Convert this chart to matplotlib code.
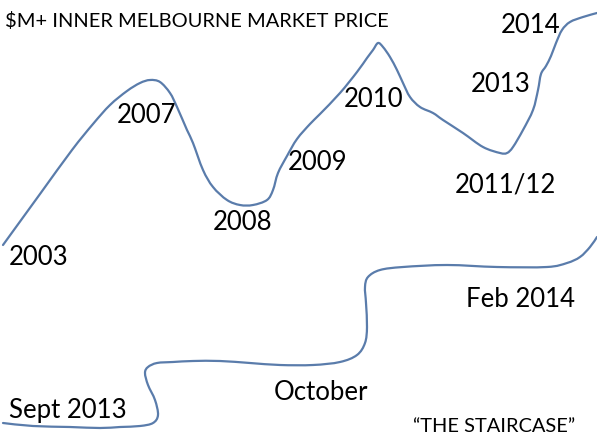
import matplotlib
matplotlib.use("Agg")
import matplotlib.pyplot as plt
from matplotlib.path import Path
from matplotlib.patches import PathPatch

# ---- data (pixel space, y downwards) ----
upper_x = [3, 40, 72, 93, 110, 127, 140, 150, 160, 170, 177, 187, 193, 203, 213,
           227, 240, 253, 267, 273, 278, 287, 297, 310, 320, 340, 357, 367, 373, 378,
           383, 390, 397, 403, 410, 420, 433, 443, 463, 483, 500, 507, 513, 523, 533,
           538, 541, 546, 551, 556, 562, 570, 583, 597]
upper_y = [245, 194, 150, 124, 105, 91, 83, 80, 82, 93, 107, 130, 143, 170, 187,
           200, 205, 205, 200, 190, 173, 156, 139, 124, 114, 93, 72, 58, 50, 43,
           47, 57, 70, 83, 97, 107, 113, 120, 133, 147, 153, 153, 147, 130, 110,
           90, 74, 66, 56, 43, 30, 22, 17, 13]

lower_x = [3, 33, 70, 100, 120, 140, 153, 158, 155, 148, 145, 148, 157, 173, 193, 220,
           250, 280, 313, 340, 357, 365, 367, 366, 365, 368, 380, 403, 447, 497, 547,
           567, 580, 590, 597]
lower_y = [423, 426, 427, 428, 427, 426, 423, 415, 400, 385, 373, 367, 363, 362, 361, 361,
           363, 365, 365, 362, 355, 343, 327, 303, 287, 277, 270, 267, 265, 267, 267,
           263, 257, 247, 237]

title = "$M+ INNER MELBOURNE MARKET PRICE"
subtitle = "\u201cTHE STAIRCASE\u201d"
upper_labels = ["2003", "2007", "2008", "2009", "2010", "2011/12", "2013", "2014"]
upper_label_x = [39, 146, 243, 318, 374, 505, 501, 531]
upper_label_y = [265, 123, 230, 170, 107, 192, 92, 33]
lower_labels = ["Sept 2013", "October", "Feb 2014"]
lower_label_x = [68, 321, 520]
lower_label_y = [418, 400, 307]

LINE = "#5a7cab"
FONT = ["Lato", "DejaVu Sans"]


def smooth_path(xs, ys):
    """Catmull-Rom through the read points, rendered as cubic Bezier segments."""
    pts = list(zip(xs, ys))
    verts = [pts[0]]
    codes = [Path.MOVETO]
    n = len(pts)
    for i in range(n - 1):
        p0 = pts[i - 1] if i > 0 else pts[i]
        p1 = pts[i]
        p2 = pts[i + 1]
        p3 = pts[i + 2] if i + 2 < n else pts[i + 1]
        c1 = (p1[0] + (p2[0] - p0[0]) / 6.0, p1[1] + (p2[1] - p0[1]) / 6.0)
        c2 = (p2[0] - (p3[0] - p1[0]) / 6.0, p2[1] - (p3[1] - p1[1]) / 6.0)
        verts += [c1, c2, p2]
        codes += [Path.CURVE4] * 3
    return Path(verts, codes)


fig = plt.figure(figsize=(5.97, 4.48), dpi=100)
ax = fig.add_axes([0, 0, 1, 1])
ax.set_xlim(0, 597)
ax.set_ylim(448, 0)
ax.axis("off")

for xs, ys in [(upper_x, upper_y), (lower_x, lower_y)]:
    ax.add_patch(PathPatch(smooth_path(xs, ys), facecolor="none", edgecolor=LINE,
                           lw=1.6, capstyle="round", joinstyle="round"))

ax.text(5, 27, title, family=FONT, fontsize=14.4, ha="left", va="baseline", color="black")
ax.text(494, 432, subtitle, family=FONT, fontsize=14.4, ha="center", va="baseline", color="black")

for lab, x, y in zip(upper_labels, upper_label_x, upper_label_y):
    ax.text(x, y, lab, family=FONT, fontsize=18.5, ha="center", va="baseline", color="black")
for lab, x, y in zip(lower_labels, lower_label_x, lower_label_y):
    ax.text(x, y, lab, family=FONT, fontsize=18.5, ha="center", va="baseline", color="black")

fig.savefig("out.png", dpi=100)
